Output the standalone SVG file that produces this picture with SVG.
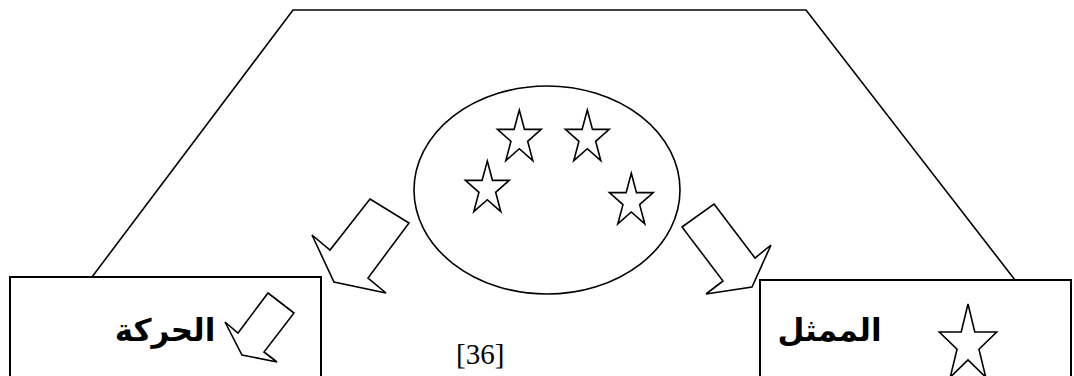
<svg xmlns="http://www.w3.org/2000/svg" width="1074" height="376" viewBox="0 0 1074 376">
  <style>
    .ln{fill:none;stroke:#000;stroke-width:1.6;stroke-linejoin:miter}
    .box{fill:#fff;stroke:#000;stroke-width:2}
    .shape{fill:#fff;stroke:#000;stroke-width:1.6;stroke-linejoin:miter}
    .ar{font-family:"DejaVu Sans",sans-serif;font-weight:bold;font-size:31px;fill:#000}
    .num{font-family:"Liberation Serif",serif;font-size:29px;fill:#000}
  </style>
  <defs>
    <path id="star" d="M0,-28 L5.2,-8.65 L21.9,-8.65 L8.35,3.3 L13.5,22.65 L0,10.7 L-13.5,22.65 L-8.35,3.3 L-21.9,-8.65 L-5.2,-8.65 Z"/>
  </defs>
  <rect width="1074" height="376" fill="#fff"/>
  <g id="connectors">
    <polyline class="ln" points="92,277 293,10 806,10 1015,280"/>
    <polygon class="shape" points="370,199 409,223 368,278 386,293 334,282 312,235 330,250"/>
    <polygon class="shape" points="714,204 755,258 771,245 752,287 706,294 723,281 682,227"/>
  </g>
  <g id="center-circle">
    <ellipse class="shape" cx="547" cy="190" rx="133" ry="104"/>
    <use href="#star" class="shape" x="519.3" y="138"/>
    <use href="#star" class="shape" x="587.3" y="138"/>
    <use href="#star" class="shape" x="487.3" y="189"/>
    <use href="#star" class="shape" x="631.3" y="201.3"/>
  </g>
  <g id="node-movement">
    <rect class="box" x="10" y="277" width="311" height="120"/>
    <text class="ar" x="165" y="341" text-anchor="middle" direction="rtl">الحركة</text>
    <polygon class="shape" points="268,293 294,313 264,352 277,362 242,355 225,322 238,333"/>
  </g>
  <g id="node-actor">
    <rect class="box" x="760" y="280" width="311" height="120"/>
    <text class="ar" x="829.5" y="341" text-anchor="middle" direction="rtl">الممثل</text>
    <path class="shape" d="M968,304 L974.78,332 L996.7,332 L978.96,349.28 L985.76,377.26 L968,359.97 L950.24,377.26 L957.04,349.28 L939.3,332 L961.22,332 Z"/>
  </g>
  <g id="caption">
    <text class="num" x="456" y="364">[36]</text>
  </g>
</svg>
